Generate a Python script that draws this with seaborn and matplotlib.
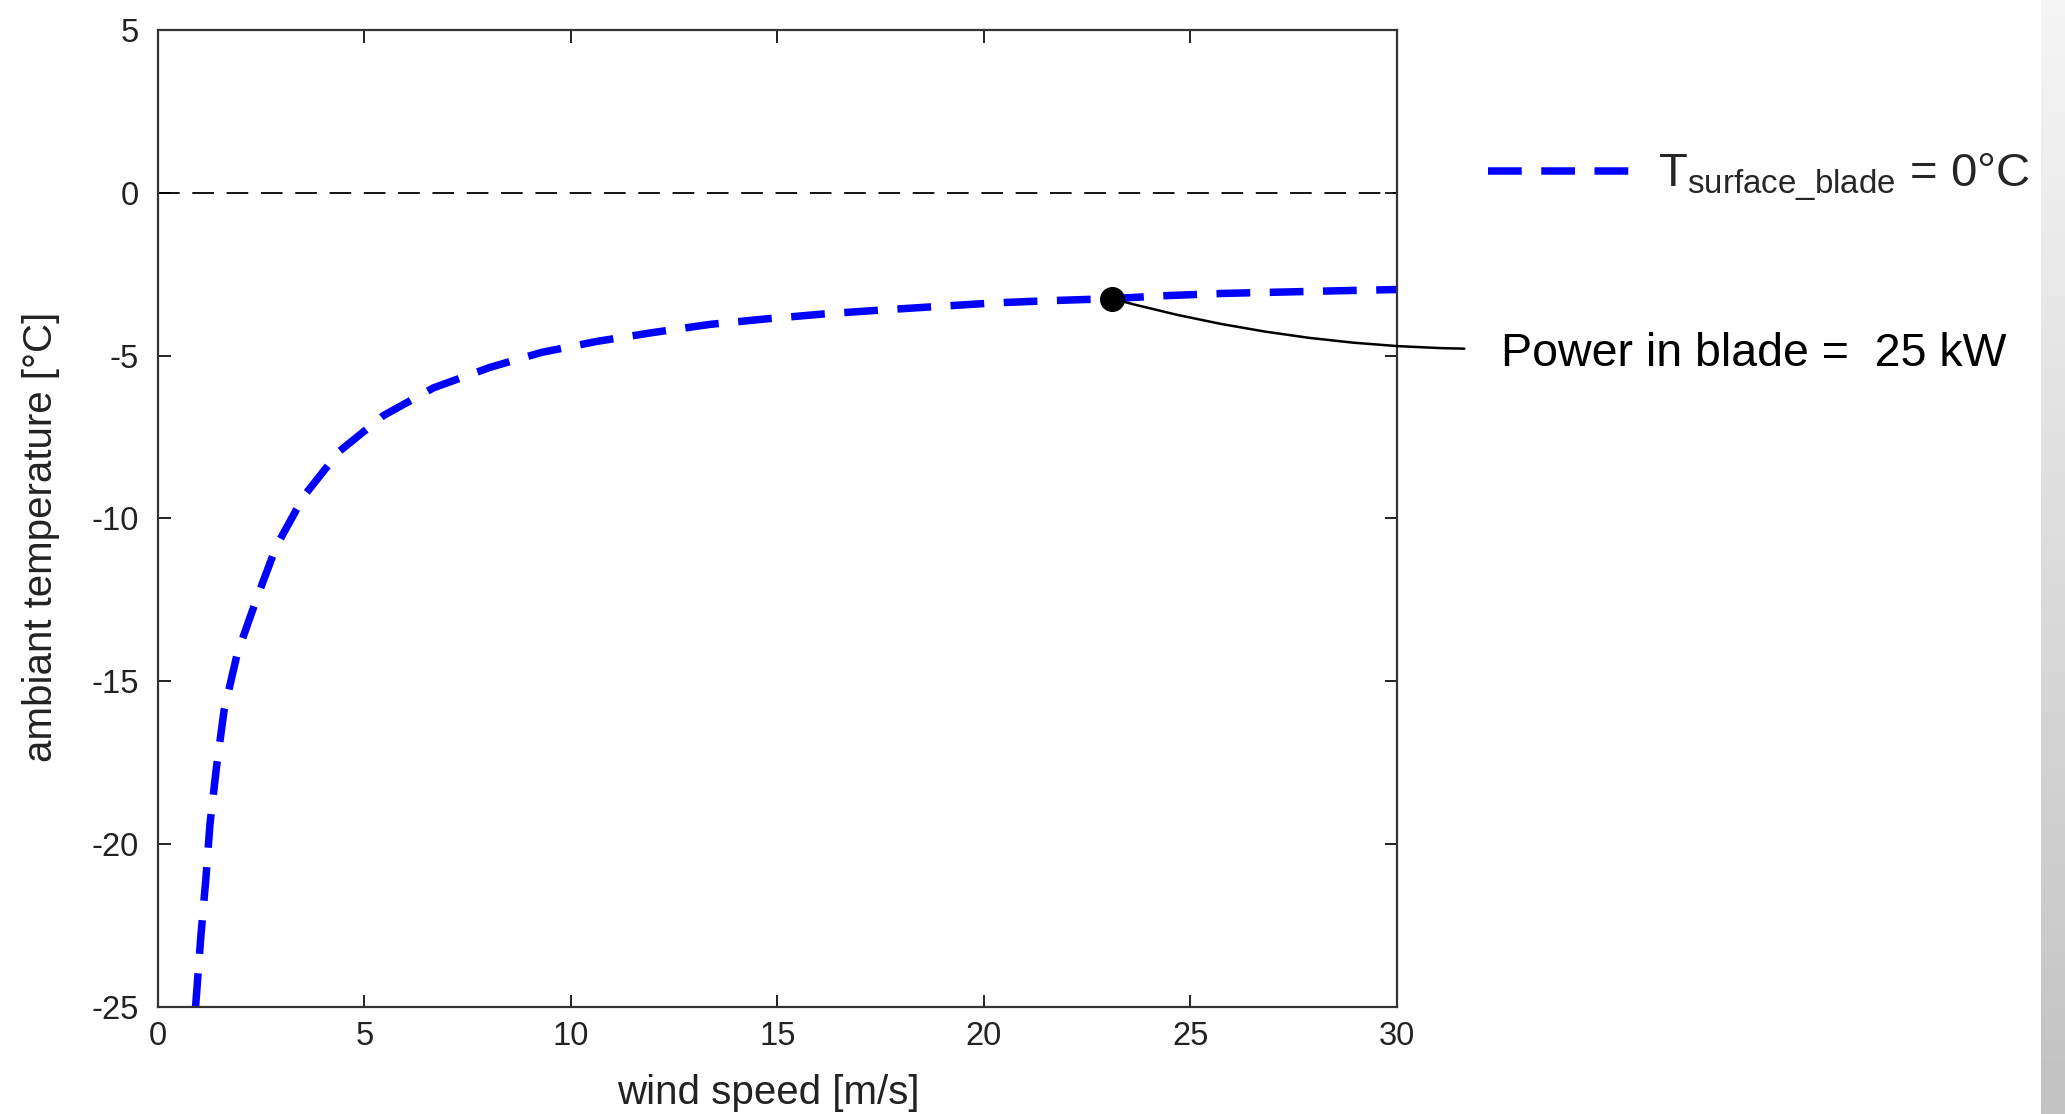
import numpy as np
import pandas as pd
import matplotlib
matplotlib.use("Agg")
import matplotlib.pyplot as plt
import seaborn as sns

# curve: ambient temperature that keeps blade surface at 0 C
wind_speed = [0.91, 1.04, 1.16, 1.26, 1.42, 1.60, 1.92, 2.39, 2.87, 3.54,
              4.39, 5.46, 6.67, 8.04, 9.29, 10.64, 11.99, 13.37, 14.74, 16.13,
              17.51, 18.88, 20.27, 21.64, 23.1, 24.38, 25.78, 27.15, 28.52, 30.0]
ambient_temp = [-25.0, -22.8, -21.06, -19.37, -17.6, -15.9, -14.15, -12.46, -10.84, -9.30,
                -7.94, -6.84, -5.99, -5.36, -4.90, -4.56, -4.29, -4.04, -3.87, -3.72,
                -3.60, -3.49, -3.38, -3.31, -3.25, -3.16, -3.09, -3.05, -3.01, -2.97]

marker_speed = 23.1
marker_temp = -3.25

x_ticks = [0, 5, 10, 15, 20, 25, 30]
y_ticks = [-25, -20, -15, -10, -5, 0, 5]

df = pd.DataFrame({"wind": wind_speed, "temp": ambient_temp})

sns.set_theme(style="white")
plt.rcParams["font.family"] = ["Liberation Sans", "DejaVu Sans"]
plt.rcParams["mathtext.fontset"] = "custom"
plt.rcParams["mathtext.rm"] = "Liberation Sans"
plt.rcParams["mathtext.it"] = "Liberation Sans"
plt.rcParams["axes.unicode_minus"] = False

fig = plt.figure(figsize=(20.65, 11.14), dpi=100)
ax = fig.add_axes([0.0765, 0.0961, 0.600, 0.877])

sns.lineplot(data=df, x="wind", y="temp", ax=ax, color="#0000ff", linewidth=5.4,
             label=r"T$_{\mathrm{surface\_blade}}$ = 0°C")
ax.lines[0].set_dashes([4.5, 2.6])
ax.lines[0].set_dash_joinstyle("round")

ax.axhline(0, color="black", linewidth=1.3, dashes=(12, 7))
ax.plot([marker_speed], [marker_temp], "o", color="black", markersize=17, zorder=5)

ax.set_xlim(0, 30)
ax.set_ylim(-25, 5)
ax.set_xticks(x_ticks)
ax.set_yticks(y_ticks)
ax.tick_params(direction="in", length=9, width=1.4, bottom=True, left=True,
               top=True, right=True, labelsize=23.5, colors="#222222", pad=10)
ax.tick_params(axis="y", pad=14)
for s in ax.spines.values():
    s.set_color("#333333")
    s.set_linewidth(1.6)

ax.set_xlabel("wind speed [m/s]", fontsize=29, color="#222222", labelpad=16)
ax.set_ylabel("ambiant temperature [°C]", fontsize=29, color="#222222", labelpad=22)
ax.xaxis.label.set_x(0.4923)
ax.yaxis.label.set_y(0.4816)

ax.legend(loc="center left", bbox_to_anchor=(1488 / 2065, 1 - 178 / 1114),
          bbox_transform=fig.transFigure, frameon=False, fontsize=34,
          handlelength=3.0, handletextpad=0.6, borderpad=0, borderaxespad=0)

ax.annotate("Power in blade =  25 kW", xy=(marker_speed, marker_temp),
            xytext=(1501 / 2065, 1 - 354 / 1114), textcoords="figure fraction",
            fontsize=33.5, va="center", ha="left", color="black",
            arrowprops=dict(arrowstyle="-", color="black", linewidth=1.8,
                            relpos=(0, 0.62), shrinkA=24, shrinkB=0,
                            connectionstyle="arc3,rad=-0.07"),
            annotation_clip=False)

# grey slide edge on the right
edge = fig.add_axes([2041 / 2065, 0, 24 / 2065, 1])
grad = np.linspace(0.96, 0.76, 200).reshape(-1, 1)
edge.imshow(np.repeat(grad, 4, axis=1), cmap="gray", vmin=0, vmax=1,
            aspect="auto", extent=[0, 1, 0, 1], origin="upper")
edge.axis("off")

fig.savefig("out.png", dpi=100)
